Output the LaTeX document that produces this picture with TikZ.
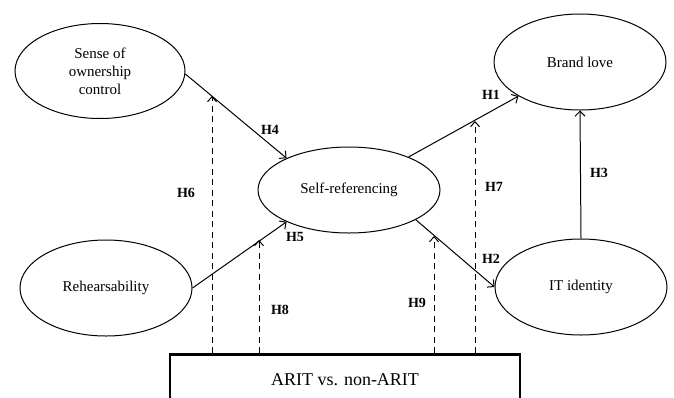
\documentclass[tikz,border=0pt]{standalone}
\usepackage{fontspec}
\setmainfont{Liberation Serif}
\usetikzlibrary{shapes.geometric,arrows.meta}
\begin{document}
\begin{tikzpicture}[x=1pt,y=-1pt,
  construct/.style={draw,ellipse,line width=1pt,inner sep=0pt,align=center,
    font=\fontsize{15}{18}\selectfont},
  solidarr/.style={line width=1pt,-{Straight Barb[length=5pt,width=10pt,line width=1pt]}},
  dasharr/.style={line width=1pt,dash pattern=on 6pt off 4.5pt,-{Straight Barb[length=5pt,width=9pt,line width=1pt]}},
  hlab/.style={font=\fontsize{14}{16}\selectfont\bfseries,inner sep=0pt},
  groupbox/.style={draw,line width=2.5pt,inner xsep=0pt,inner ysep=0pt,
    font=\fontsize{18}{20}\selectfont}]
\useasboundingbox (0,0) rectangle (674,397);
% constructs
\node[construct,minimum width=170pt,minimum height=95pt] (soc) at (100,71) {Sense of\\ownership\\control};
\node[construct,minimum width=182pt,minimum height=86pt] (sr) at (349,190) {Self-referencing};
\node[construct,minimum width=172pt,minimum height=96pt] (bl) at (580,62) {Brand love};
\node[construct,minimum width=172pt,minimum height=96pt] (reh) at (106,288) {Rehearsability};
\node[construct,minimum width=172pt,minimum height=96pt] (it) at (581,287) {IT identity};
% moderator box
\node[groupbox,anchor=north,minimum width=350pt,text height=31pt,text depth=60pt] (ar) at (345,353) {ARIT vs. non-ARIT};
% direct paths
\draw[solidarr] (soc.-2) -- (sr.153);
\draw[solidarr] (reh.east) -- (sr.207);
\draw[solidarr] (sr.29) -- (bl.209);
\draw[solidarr] (sr.-24) -- (it.west);
\draw[solidarr] (it.north) -- (bl.south);
% moderation tips
\coordinate (t6) at (212,96);
\coordinate (t8) at (259,240);
\coordinate (t9) at (434,236);
\coordinate (t7) at (475,121);
\draw[dasharr] (ar.north -| t6) -- (t6);
\draw[dasharr] (ar.north -| t8) -- (t8);
\draw[dasharr] (ar.north -| t9) -- (t9);
\draw[dasharr] (ar.north -| t7) -- (t7);
% labels
\node[hlab] (h4) at (270,130) {H4};
\node[hlab] (h6) at (186,193) {H6};
\node[hlab] (h5) at (295,237) {H5};
\node[hlab] (h8) at (280,310) {H8};
\node[hlab] (h1) at (491,95) {H1};
\node[hlab] (h7) at (494,187) {H7};
\node[hlab] (h3) at (599,173) {H3};
\node[hlab] (h2) at (491,259) {H2};
\node[hlab] (h9) at (417,303) {H9};
\end{tikzpicture}
\end{document}
